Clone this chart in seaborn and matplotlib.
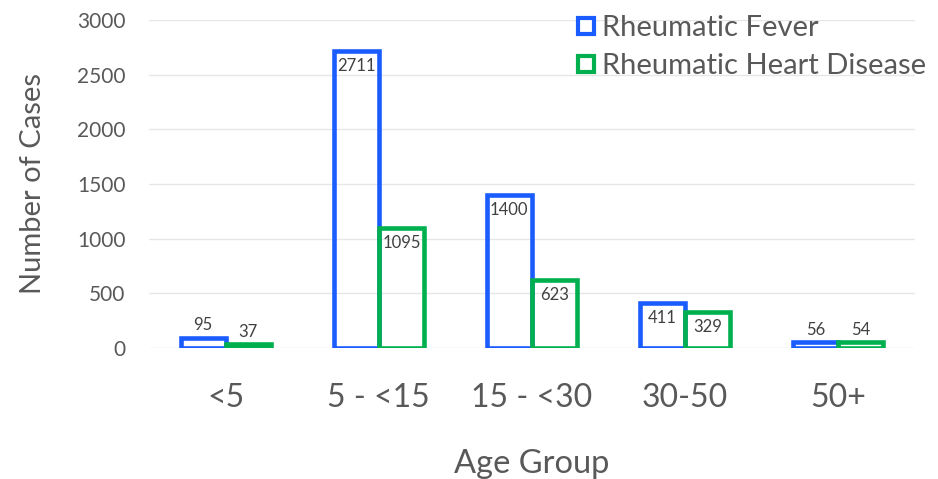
import matplotlib
matplotlib.use("Agg")
import matplotlib.pyplot as plt
from matplotlib.lines import Line2D
import seaborn as sns
import pandas as pd

age_groups = ["<5", "5 - <15", "15 - <30", "30-50", "50+"]
rheumatic_fever = [95, 2711, 1400, 411, 56]
rheumatic_heart = [37, 1095, 623, 329, 54]
series_names = ["Rheumatic Fever", "Rheumatic Heart Disease"]
colors = ["#1A5CFF", "#00B04F"]
text_color = "#595959"

df = pd.DataFrame({
    "Age Group": age_groups * 2,
    "Cases": rheumatic_fever + rheumatic_heart,
    "Series": [series_names[0]] * len(age_groups) + [series_names[1]] * len(age_groups),
})

sns.set_theme(style="white")
plt.rcParams["font.family"] = ["Lato", "DejaVu Sans"]

fig = plt.figure(figsize=(9.38, 4.79), dpi=100)
ax = fig.add_axes([0.159, 0.2735, 0.816, 0.685])

sns.barplot(data=df, x="Age Group", y="Cases", hue="Series", order=age_groups,
            hue_order=series_names, palette=colors, fill=False, linewidth=3.3,
            width=0.59, gap=0, ax=ax, legend=False, errorbar=None)

ax.set_ylim(0, 3000)
ax.set_xlim(-0.5, 4.5)
ax.set_yticks(range(0, 3001, 500))
ax.yaxis.grid(True, color="#E6E6E6", linewidth=1)
ax.set_axisbelow(True)
for s in ax.spines.values():
    s.set_visible(False)
ax.tick_params(axis="y", labelsize=15, colors=text_color, length=0, pad=17)
ax.tick_params(axis="x", labelsize=23, colors=text_color, length=0, pad=25)
ax.set_xlabel("Age Group", fontsize=23.5, color=text_color, labelpad=26)
ax.set_ylabel("Number of Cases", fontsize=21, color=text_color, labelpad=22)

for cont in ax.containers:
    for bar in cont:
        h = bar.get_height()
        x = bar.get_x() + bar.get_width() / 2
        if h > 250:
            ax.annotate(f"{int(round(h))}", (x, h), xytext=(0, -5), textcoords="offset points",
                        ha="center", va="top", fontsize=12, color="#404040")
        else:
            ax.annotate(f"{int(round(h))}", (x, h), xytext=(0, 3), textcoords="offset points",
                        ha="center", va="bottom", fontsize=12, color="#404040")

handles = [Line2D([0], [0], marker="s", linestyle="none", markersize=12,
                  markerfacecolor="white", markeredgecolor=c, markeredgewidth=3)
           for c in colors]
leg = ax.legend(handles, series_names, loc="upper right", bbox_to_anchor=(1.03, 1.05),
                frameon=False, fontsize=21, handletextpad=0.05, labelspacing=0.4,
                borderaxespad=0, handlelength=1.0)
for t in leg.get_texts():
    t.set_color(text_color)

fig.savefig("out.png", dpi=100)
